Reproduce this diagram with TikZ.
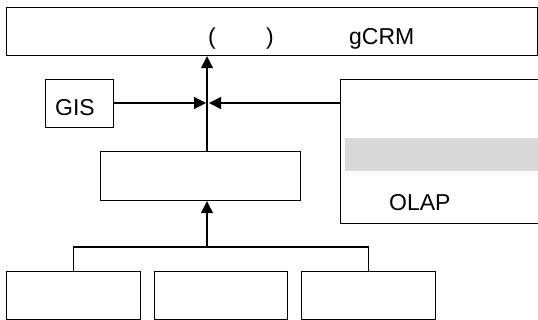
\documentclass[tikz,border=0pt]{standalone}
\usepackage{fontspec}
\setmainfont{Liberation Sans}
\usetikzlibrary{arrows.meta}
\definecolor{bargray}{HTML}{D9D9D9}
\tikzset{
  box/.style={draw=black, line width=1.2pt, rectangle, inner sep=0pt, anchor=north west},
  lbl/.style={inner sep=0pt, anchor=base west, font=\fontsize{23}{27}\selectfont},
  conn/.style={draw=black, line width=1.2pt},
  arr/.style={conn, -{Triangle[length=12pt,width=12pt]}},
}
\begin{document}
\begin{tikzpicture}[x=1pt,y=-1pt]
\useasboundingbox (0,0) rectangle (538,320);
\clip (0,0) rectangle (538,320);
% boxes
\node[box, minimum width=531pt, minimum height=48pt] (top) at (6,7) {};
\node[box, minimum width=68pt, minimum height=48pt] (gis) at (45,79) {};
\node[box, minimum width=200pt, minimum height=49pt] (mid) at (100,151) {};
\node[box, minimum width=210pt, minimum height=144pt] (right) at (340,79) {};
\fill[bargray] (345,138) rectangle (545,171);
\node[box, minimum width=134pt, minimum height=48pt] (b1) at (6,271) {};
\node[box, minimum width=133pt, minimum height=48pt] (b2) at (154,271) {};
\node[box, minimum width=134pt, minimum height=48pt] (b3) at (300.5,271) {};
% texts
\node[lbl] (t1) at (208,45) {(};
\node[lbl] (t2) at (266,45) {)};
\node[lbl] (t3) at (349,45) {gCRM};
\node[lbl] (tgis) at (55,116) {GIS};
\node[lbl] (tolap) at (389,210.5) {OLAP};
% connectors
\coordinate (jl) at (206,103);
\coordinate (jr) at (209,103);
\coordinate (bus) at (207,247);
\draw[conn] (mid.north -| 207,0) -- (jl -| 207,0);
\draw[arr] (jl -| 207,0) -- (top.south -| 207,0);
\draw[arr] (gis.east |- jl) -- (jl);
\draw[arr] (right.west |- jr) -- (jr);
\draw[arr] (bus) -- (mid.south -| bus);
\draw[conn] (b1.north) -- (b1.north |- bus) -- (b3.north |- bus) -- (b3.north);
\end{tikzpicture}
\end{document}
